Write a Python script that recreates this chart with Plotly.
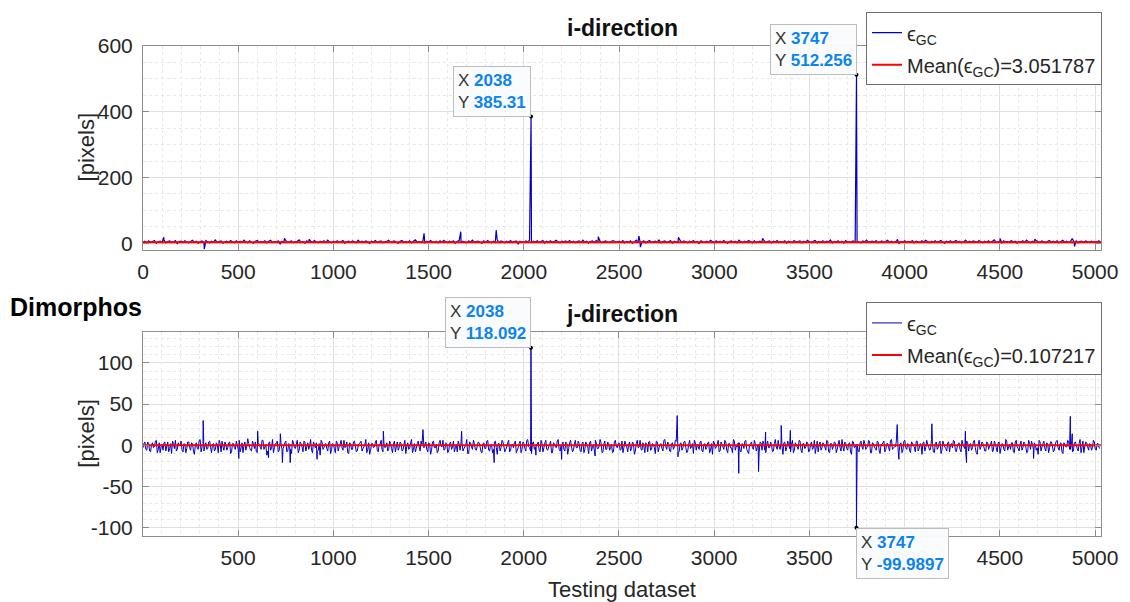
import plotly.graph_objects as go

# ---------------- data ----------------
# i-direction: background samples (every 10 samples from index 0)
i_start, i_step = 0, 10
i_base = [
    3, 6, 1, 7, 2, 5, 8, 0, 4, 6, 2, 9, 1, 5, 7, 2, 4, 8, -1, 5, 6, 2, 7, 3, 1,
    5, 9, 2, 6, 0, 4, 7, 2, 8, 4, 1, 6, 3, 10, 2, 5, 7, 0, 4, 6, 2, 8, 4, 1, 7,
    3, 6, 2, 9, 4, 1, 7, 3, 0, 6, 8, 2, 5, 3, 7, 1, 6, 9, 2, 5, 3, 7, -2, 6, 3,
    8, 2, 5, 7, 1, 4, 6, 10, 2, 5, 0, 7, 3, 6, 2, 8, 4, 1, 6, 3, 7, 2, 9, 4, 1,
    6, 3, 7, 2, 5, 8, 0, 4, 6, 2, 7, 4, 1, 9, 3, 6, 2, 7, 4, -1, 6, 3, 8, 2, 5,
    7, 1, 4, 6, 9, 2, 5, 7, 3, 0, 6, 8, 2, 5, 3, 7, 1, 6, 10, 3, 5, 2, 7, 0, 6,
    3, 8, 4, 2, 6, 1, 7, 3, 9, 4, 2, 6, 3, 7, 0, 5, 8, 2, 6, 3, 1, 7, 4, 9, 2,
    5, 6, 3, 0, 7, 2, 8, 4, 1, 6, 3, 10, 2, 7, 4, 1, 6, 3, 8, 2, 5, 7, -2, 6, 3,
    2, 7, 4, 9, 1, 6, 3, 7, 2, 5, 8, 0, 6, 3, 7, 2, 5, 9, 3, 1, 6, 4, 7, 2, 8,
    3, 6, 1, 5, 7, 2, 9, 3, 6, 0, 5, 7, 2, 8, 3, 6, 1, 5, 7, 3, 2, 6, 8, 4, 3,
    6, 2, 8, 1, 5, 3, 7, 0, 4, 9, 2, 6, 3, 7, 1, 5, 8, 2, 4, 6, 3, 10, 1, 5, 7,
    2, 4, 8, 0, 6, 3, 5, 9, 2, 7, 4, 1, 6, 3, 8, 2, 5, -1, 7, 4, 3, 6, 2, 9, 5,
    1, 7, 3, 6, 2, 8, 4, 0, 5, 7, 3, 6, 1, 9, 4, 2, 6, 3, 8, 5, 1, 7, 2, 4, 6,
    3, 9, 2, 5, 7, 1, 6, 4, 8, 2, 5, 3, 7, 0, 6, 4, 2, 8, 3, 5, 7, 1, 6, 3, 9,
    4, 2, 6, 8, 1, 5, 3, 7, 2, 6, 4, 10, 1, 5, 3, 7, 2, 6, 0, 8, 4, 3, 5, 7, 2,
    6, 3, 1, 7, 4, 9, 2, 5, 6, 3, 8, 1, 4, 7, 2, 5, 9, 3, 6, 2, 4, 8, -1, 5, 3,
    7, 2, 5, 3, 8, 1, 6, 4, 2, 7, 3, 9, 5, 1, 6, 3, 7, 2, 5, 8, 4, 0, 6, 3, 7,
    2, 5, 8, 3, 6, 1, 4, 9, 2, 6, 3, 7, 5, 2, 8, 4, 1, 6, 3, 7, 2, 5, 10, 3, 4,
    6, 1, 7, 3, 5, 2, 8, 4, 6, 0, 5, 3, 7, 2, 9, 4, 1, 6, 3, 8, 5, 2, 7, 4, 1,
    5, 8, 2, 6, 3, 7, 1, 5, 9, 3, 6, 2, 4, 7, 3, 8, 1, 5, 6, 2, 7, 4, 3, 6, 2,
    5, 3, 7, 2,
]
i_spike_x = [109, 322, 743, 873, 1476, 1669, 1855, 2038, 2391, 2604, 2612, 2812, 3254, 3747, 3961, 4501, 4683, 4880, 4892]
i_spike_y = [18, -18, 15, 12, 30, 35, 40, 385.31, 20, 22, -12, 18, 15, 512.256, 12, 14, 12, 14, -10]
i_mean = 3.051787

# j-direction: background samples (every 10 samples from index 1, and in between from index 6)
j_start, j_mid_start, j_step = 1, 6, 10
j_base = [
    -3, 4, -6, 2, -8, 3, -2, 6, -5, -9, 1, 3, -7, 4, -4, -10, 2, 6, -5, -1, 5, -8, 1, -4, 4,
    -6, 2, -11, 3, -5, 7, -2, -7, 3, -4, 5, -9, 2, -5, 1, 6, -8, -2, 4, -6, 3, -10, 2, -3, 5,
    -5, -8, 3, 0, -6, 8, -3, -7, 2, 4, -9, 1, -5, 6, -2, -12, 3, -6, 7, -3, 2, -8, 4, -5, -1,
    5, -7, 1, -10, 3, -4, 6, -6, 2, -8, 4, -2, -5, 7, -9, 1, 3, -6, -12, 4, -3, 2, -7, 5, -5,
    1, -9, 3, -2, 6, -6, -3, 4, -10, 2, -5, 5, -8, 0, 3, -7, -2, 7, -5, -11, 2, -3, 4, -6, 1,
    6, -8, -3, 3, -5, 2, -9, 5, -2, -6, 4, -7, 1, -10, 3, -4, 7, -5, -8, 2, -2, 5, -7, 1, -5,
    3, -11, 4, -3, 1, -7, 6, -2, -6, 3, -9, 2, -5, 5, -3, -8, 1, 4, -7, -2, 7, -10, 3, -5, 2,
    -6, 4, -2, -9, 3, -4, 6, -7, 1, -5, 5, -11, 2, -3, 4, -8, -2, 6, -6, 1, 3, -9, -3, 5, -5,
    2, -7, 7, -3, -10, 4, -2, 1, -6, 6, -8, 3, -5, -2, 5, -9, 2, -3, 7, -7, 1, -5, 4, -11, 3,
    -2, -6, 6, -3, 2, -8, 4, -5, 1, -10, 5, -2, -7, 3, -4, 7, -9, 2, -5, 4, -6, 1, -8, 6, -3,
    3, -5, -9, 5, -2, 1, -7, 4, -11, 2, -3, 6, -6, -2, 3, -8, 5, -5, 1, -10, 4, -3, 2, -7, 7,
    -5, 1, -8, 3, -2, 5, -9, 2, -6, 4, -3, -7, 6, -2, -10, 3, 1, -5, 5, -8, 2, -3, 4, -6, -11,
    3, -2, 6, -7, 1, -5, 4, -9, 2, -3, 7, -6, -2, 3, -8, 1, 5, -5, -10, 2, -3, 6, -7, 1, 4,
    -6, 2, -9, 5, -3, 1, -7, 7, -5, -2, 3, -11, 4, -3, 2, -8, 6, -6, 1, -5, 5, -9, 2, -2, 3,
    -7, 4, -3, -10, 5, 1, -6, 3, -2, 6, -8, 2, -5, 4, -9, 1, -3, 7, -7, 2, -6, 3, -11, 4, -2,
    1, -8, 5, -5, 2, -3, 6, -9, 3, -2, -6, 4, -10, 1, 5, -5, 2, -7, 7, -3, -2, 4, -8, 3, -6,
    6, -5, 1, -9, 3, -2, 5, -7, 2, -11, 4, -3, 1, -6, 7, -8, 2, -5, 3, -10, 5, -2, -7, 4, 1,
    -3, 5, -8, 2, -5, 6, -2, -9, 3, 1, -6, 4, -3, -11, 6, -2, 2, -7, 4, -5, 1, -8, 5, -3, 3,
    -10, 2, -5, 7, -6, 1, 3, -8, 4, -2, -7, 5, -3, 2, -9, 6, -5, 1, 3, -6, -11, 4, -2, 5, -7,
    2, -3, 4, -8, 1, 6, -6, 3, -10, 2, -2, 5, -5, -8, 3, 1, -7, 7, -3, -9, 4, -2, 2, -6, 6,
    -5, 2, -3,
]
j_mid = [
    2, -5, 4, -7, 1, -3, 5, -9, 3, -2, -6, 4, -1, -8, 2, 5, -4, -7, 3, 1, -6, 2, -9, 4, -3,
    3, -7, 1, -4, 6, -8, 2, -1, -5, 4, -3, 1, -7, 3, -9, 2, 5, -6, 1, -3, 4, -8, 2, -5, 0,
    6, -3, -9, 4, -1, 2, -6, 5, -4, -8, 3, -2, 6, -5, 1, -7, 4, -3, -9, 2, 5, -6, 1, -4, 3,
    -8, 2, -5, 6, -3, 1, -9, 4, -2, 5, -7, 3, -1, -6, 4, -3, -8, 2, 6, -5, 1, -4, 3, -10, 2,
    -4, 5, -7, 1, -3, 6, -2, -9, 3, -5, 4, -1, -7, 2, 5, -4, 1, -9, 3, -6, 2, -2, 6, -8, 1,
    -5, 3, -2, -7, 5, -4, 1, -8, 4, -3, 2, -6, 6, -1, -5, 3, -9, 2, -4, 5, -7, 1, -3, 4, -8,
    2, -6, 5, -3, -9, 3, -1, 6, -5, 2, -7, 4, -2, -8, 1, 5, -6, 3, -4, 1, -10, 4, -2, 6, -5,
    -1, 3, -8, 2, -4, 5, -6, 1, -9, 4, -3, 2, -7, 6, -2, -5, 3, -8, 1, -3, 5, -6, 2, -9, 4,
    -4, 6, -2, -7, 3, -5, 1, 4, -8, 2, -3, 6, -6, 1, -9, 3, -2, 5, -5, -1, 4, -7, 2, -4, 6,
    -8, 1, -3, 5, -6, 2, -9, 4, -2, 3, -7, 1, 6, -4, -1, 3, -8, 5, -5, 2, -3, -9, 4, -1, 2,
    -6, 5, -3, 1, -8, 4, -4, 2, -7, 6, -2, -5, 3, -9, 1, 4, -6, 2, -3, 5, -8, 1, -4, 6, -2,
    4, -7, 2, -5, 6, -1, -8, 3, -3, 5, -9, 1, -4, 2, 6, -6, -2, 4, -7, 1, -5, 3, -9, 2, 5,
    -4, 1, -8, 4, -2, 6, -6, 2, -3, -9, 5, -1, 3, -7, 2, -4, 6, -8, 1, 4, -5, 2, -3, -9, 3,
    5, -6, 1, -3, 4, -8, 2, -2, 6, -5, -1, 3, -7, 5, -4, 1, -9, 3, -2, 6, -6, 2, -4, 4, -8,
    1, -5, 6, -2, -8, 4, -3, 1, -6, 5, -9, 2, -1, 3, -5, 6, -7, -2, 4, -4, 2, -8, 5, -3, 1,
    -7, 3, -2, 6, -5, -1, 4, -9, 2, -4, 5, -6, 1, 3, -8, 2, -3, 6, -5, -2, 4, -7, 1, -9, 5,
    -3, 2, -6, 4, -1, -8, 5, -4, 1, 3, -7, 6, -2, -5, 2, -9, 4, -3, 5, -6, 1, -4, 3, -8, 2,
    6, -5, -2, 3, -8, 1, -4, 5, -7, 2, -3, 6, -9, 1, -5, 4, -2, -7, 3, -1, 5, -6, 2, -8, 4,
    -3, 1, -7, 5, -2, -5, 3, -9, 6, -4, 1, -6, 4, -2, -8, 2, 5, -5, 1, -3, 6, -7, 2, -4, 3,
    -9, 4, -1, -6, 5, -3, 2, -8, 3, -2, 6, -5, 1, -7, 4, -4, 2, -9, 5, -1, 3, -6, 1, -3, 4,
    -6, 2, -4,
]
j_spike_x = [317, 504, 603, 660, 722, 733, 774, 915, 1263, 1471, 1674, 1845, 2038, 2064, 2199, 2375,
             2806, 2810, 3129, 3233, 3270, 3352, 3400, 3747, 3961, 3970, 4143, 4319, 4325, 4677, 4870, 4880]
j_spike_y = [30, -16, 17, -15, 14, -21, -21, -17, 17, 19, 17, -21, 118.092, -12, -17, -13,
             36, -14, -34, -32, 16, 24, 18, -99.9897, 25, -17, 26, 17, -21, -16, 35, 14]
j_mean = 0.107217

# data tips (x, y)
tip_x = [2038, 3747]
tip_i_y = [385.31, 512.256]
tip_j_y = [118.092, -99.9897]

x_end = 5031
i_yticks = [0, 200, 400, 600]
j_yticks = [-100, -50, 0, 50, 100]


def build(series, sx, sy):
    d = {}
    for start, step, base in series:
        d.update({start + k * step: v for k, v in enumerate(base)})
    d.update(dict(zip(sx, sy)))
    ks = sorted(d)
    return ks, [d[k] for k in ks]


ix, iy = build([(i_start, i_step, i_base)], i_spike_x, i_spike_y)
jx, jy = build([(j_start, j_step, j_base), (j_mid_start, j_step, j_mid)], j_spike_x, j_spike_y)

# ---------------- figure ----------------
W, H = 1130, 602
ML, MR, MT, MB = 143, 19, 43, 66
PW, PH = W - ML - MR, H - MT - MB


def px(xp):
    return (xp - ML) / PW


def py(yp):
    return (H - MB - yp) / PH


FONT = "Liberation Sans, Arial, Helvetica, sans-serif"
TXT = "#262626"
BLUE = "rgb(0,0,200)"
TIPBLUE = "#0a84f0"

fig = go.Figure()

eps = "\u03f5"

fig.add_trace(go.Scatter(x=ix, y=iy, mode="lines", line=dict(color=BLUE, width=1.2, simplify=False),
                         name=f"{eps}<sub>GC</sub>", legendgroup="a",
                         xaxis="x", yaxis="y", legend="legend"))
fig.add_trace(go.Scatter(x=[0, x_end], y=[i_mean, i_mean], mode="lines", line=dict(color="#ff0000", width=2),
                         name=f"Mean({eps}<sub>GC</sub>)={i_mean:.6f}", legendgroup="b",
                         xaxis="x", yaxis="y", legend="legend"))
fig.add_trace(go.Scatter(x=tip_x, y=tip_i_y, mode="markers", marker=dict(color="black", size=4),
                         showlegend=False, xaxis="x", yaxis="y"))

fig.add_trace(go.Scatter(x=jx, y=jy, mode="lines", line=dict(color=BLUE, width=1, simplify=False),
                         name=f"{eps}<sub>GC</sub>", legendgroup="c",
                         xaxis="x2", yaxis="y2", legend="legend2"))
fig.add_trace(go.Scatter(x=[1, x_end], y=[j_mean, j_mean], mode="lines", line=dict(color="#ff0000", width=2),
                         name=f"Mean({eps}<sub>GC</sub>)={j_mean:.6f}", legendgroup="d",
                         xaxis="x2", yaxis="y2", legend="legend2"))
fig.add_trace(go.Scatter(x=tip_x, y=tip_j_y, mode="markers", marker=dict(color="black", size=4),
                         showlegend=False, xaxis="x2", yaxis="y2"))

top_dom = [py(248), 1.0]
bot_dom = [0.0, py(331)]

axis_common = dict(
    showline=True, linecolor="#8c8c8c", linewidth=1, mirror="ticks",
    ticks="inside", ticklen=6, tickcolor="#8c8c8c", tickwidth=1,
    showgrid=True, gridcolor="#e0e0e0", gridwidth=1, zeroline=False,
    tickfont=dict(family=FONT, size=21, color=TXT),
)
minor_x = dict(dtick=100, showgrid=True, gridcolor="#e8e8e8", griddash="dot", ticks="")

fig.update_layout(
    width=W, height=H, margin=dict(l=ML, r=MR, t=MT, b=MB),
    paper_bgcolor="white", plot_bgcolor="white",
    font=dict(family=FONT, color=TXT),
    xaxis=dict(axis_common, domain=[0, 1], anchor="y", range=[0, x_end], tick0=0, dtick=500,
               ticklabelstandoff=3, minor=minor_x),
    yaxis=dict(axis_common, domain=top_dom, anchor="x", range=[-20, 600],
               tickvals=i_yticks, ticktext=[str(v) for v in i_yticks], ticklabelstandoff=5,
               minor=dict(dtick=50, showgrid=True, gridcolor="#e8e8e8", griddash="dot", ticks="")),
    xaxis2=dict(axis_common, domain=[0, 1], anchor="y2", range=[1, x_end], tick0=0, dtick=500,
                ticklabelstandoff=3, minor=minor_x),
    yaxis2=dict(axis_common, domain=bot_dom, anchor="x2", range=[-110, 137],
                tickvals=j_yticks, ticktext=[str(v) for v in j_yticks], ticklabelstandoff=5,
                minor=dict(dtick=10, showgrid=True, gridcolor="#e8e8e8", griddash="dot", ticks="")),
    legend=dict(x=px(1112), xanchor="right", y=py(9), yanchor="top",
                bgcolor="white", bordercolor="#6e6e6e", borderwidth=1, traceorder="grouped",
                font=dict(family=FONT, size=20, color=TXT), tracegroupgap=3, itemwidth=30),
    legend2=dict(x=px(1112), xanchor="right", y=py(301), yanchor="top",
                 bgcolor="white", bordercolor="#6e6e6e", borderwidth=1, traceorder="grouped",
                 font=dict(family=FONT, size=20, color=TXT), tracegroupgap=3, itemwidth=30),
    showlegend=True,
)

annos = []
# titles
annos.append(dict(text="<b>i-direction</b>", x=0.5, y=py(25), xref="paper", yref="paper",
                  xanchor="center", yanchor="middle",
                  showarrow=False, font=dict(family=FONT, size=23, color="#111111")))
annos.append(dict(text="<b>j-direction</b>", x=0.5, y=py(313), xref="paper", yref="paper",
                  xanchor="center", yanchor="middle",
                  showarrow=False, font=dict(family=FONT, size=23, color="#111111")))
annos.append(dict(text="<b>Dimorphos</b>", x=px(75), y=py(306), xref="paper", yref="paper",
                  xanchor="center", yanchor="middle",
                  showarrow=False, font=dict(family=FONT, size=25, color="#000000")))
annos.append(dict(text="[pixels]", x=px(86), y=py(145.5), xref="paper", yref="paper", textangle=-90,
                  xanchor="center", yanchor="middle",
                  showarrow=False, font=dict(family=FONT, size=22, color=TXT)))
annos.append(dict(text="[pixels]", x=px(86), y=py(433.5), xref="paper", yref="paper", textangle=-90,
                  xanchor="center", yanchor="middle",
                  showarrow=False, font=dict(family=FONT, size=22, color=TXT)))
annos.append(dict(text="Testing dataset", x=0.5, y=py(590), xref="paper", yref="paper",
                  xanchor="center", yanchor="middle",
                  showarrow=False, font=dict(family=FONT, size=22, color=TXT)))


def tip(xv, yv, xr, yr, xa, ya):
    t = (f"<span style='color:#333333'>X</span> <b><span style='color:{TIPBLUE}'>{xv:g}</span></b><br>"
         f"<span style='color:#333333'>Y</span> <b><span style='color:{TIPBLUE}'>{yv:g}</span></b>")
    return dict(text=t, x=xv, y=yv, xref=xr, yref=yr, xanchor=xa, yanchor=ya, align="left",
                showarrow=False, bgcolor="rgba(250,251,253,0.97)", bordercolor="#bdbdbd", borderwidth=1,
                borderpad=4, font=dict(family=FONT, size=17, color="#333333"))


annos.append(tip(tip_x[0], tip_i_y[0], "x", "y", "right", "bottom"))
annos.append(tip(tip_x[1], tip_i_y[1], "x", "y", "right", "bottom"))
annos.append(tip(tip_x[0], tip_j_y[0], "x2", "y2", "right", "bottom"))
annos.append(tip(tip_x[1], tip_j_y[1], "x2", "y2", "left", "top"))

fig.update_layout(annotations=annos)

fig.write_html("out.html")
